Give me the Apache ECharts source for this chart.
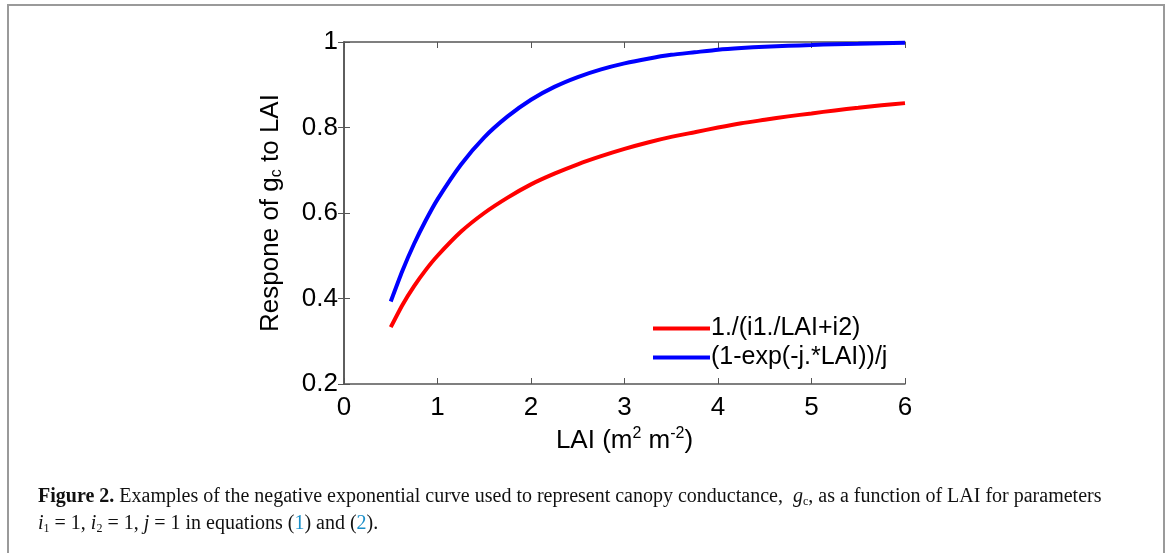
<!DOCTYPE html>
<html>
<head>
<meta charset="utf-8">
<script src="https://cdn.jsdelivr.net/npm/echarts@6/dist/echarts.min.js"></script>
<style>
  html, body { margin: 0; padding: 0; background: #fff; }
  #wrap { position: relative; width: 1171px; height: 553px; overflow: hidden; }
  #frame { position: absolute; left: 7px; top: 4px; width: 1154px; height: 560px;
           border: 2px solid #9a9a9a; border-bottom: none; }
  #chart { position: absolute; left: 0; top: 0; width: 1171px; height: 553px; }
  #caption { position: absolute; left: 38px; top: 482px; width: 1120px;
             font-family: "Liberation Serif", "DejaVu Serif", serif; font-size: 20px;
             line-height: 27px; color: #111; }
  #caption b { font-weight: bold; }
  #caption a { color: #1a8fc9; text-decoration: none; }
  #caption sub { font-size: 12px; vertical-align: -3px; line-height: 0; }
</style>
</head>
<body>
<div id="wrap">
  <div id="frame"></div>
  <div id="chart"></div>
  <div id="caption"><b>Figure 2.</b> Examples of the negative exponential curve used to represent canopy conductance, &nbsp;<i>g</i><sub>c</sub>, as a function of LAI for parameters<br><i>i</i><sub>1</sub> = 1, <i>i</i><sub>2</sub> = 1, <i>j</i> = 1 in equations (<a>1</a>) and (<a>2</a>).</div>
</div>
<script>
  // 横轴 LAI 取值
  var lai = [0.5, 0.625, 0.75, 0.875, 1, 1.25, 1.5, 1.75, 2, 2.25, 2.5, 2.75, 3, 3.25, 3.5, 3.75, 4,
             4.25, 4.5, 4.75, 5, 5.25, 5.5, 5.75, 6];
  // 1./(i1./LAI+i2)
  var redValues = [0.333, 0.385, 0.429, 0.467, 0.5, 0.556, 0.6, 0.636, 0.667, 0.692, 0.714, 0.733, 0.75,
                   0.765, 0.778, 0.789, 0.8, 0.81, 0.818, 0.826, 0.833, 0.84, 0.846, 0.852, 0.857];
  // (1-exp(-j.*LAI))/j
  var blueValues = [0.393, 0.465, 0.528, 0.583, 0.632, 0.713, 0.777, 0.826, 0.865, 0.895, 0.918, 0.936, 0.95,
                    0.961, 0.97, 0.976, 0.982, 0.986, 0.989, 0.991, 0.993, 0.995, 0.996, 0.997, 0.998];
  var xTicks = [0, 1, 2, 3, 4, 5, 6];
  var yTicks = [0.2, 0.4, 0.6, 0.8, 1];
  var seriesNames = ['1./(i1./LAI+i2)', '(1-exp(-j.*LAI))/j'];

  function pairs(xs, ys) {
    var out = [];
    for (var i = 0; i < xs.length; i++) out.push([xs[i], ys[i]]);
    return out;
  }

  var font = '"Liberation Sans", Arial, sans-serif';
  var axisColor = '#555';
  var fs = 26;

  var chart = echarts.init(document.getElementById('chart'));
  chart.setOption({
    animation: false,
    textStyle: { fontFamily: font },
    grid: { left: 344, top: 42, width: 561, height: 342, containLabel: false },
    legend: {
      orient: 'vertical',
      left: 648,
      top: 311,
      itemWidth: 57,
      itemHeight: 4,
      itemGap: 4,
      icon: 'rect',
      textStyle: { fontSize: 25, color: '#000', fontFamily: font, padding: [0, 0, 0, -4] },
      data: seriesNames
    },
    xAxis: [{
      type: 'value',
      min: xTicks[0], max: xTicks[xTicks.length - 1], interval: 1,
      name: 'LAI (m{sup|2} m{sup|-2})',
      nameLocation: 'middle',
      nameGap: 41,
      nameTextStyle: {
        fontSize: fs, color: '#000', fontFamily: font,
        rich: { sup: { fontSize: 16, color: '#000', fontFamily: font, padding: [0, 0, 14, 0] } }
      },
      axisLine: { show: true, lineStyle: { color: axisColor, width: 1.5 } },
      axisTick: { show: true, inside: true, length: 6, lineStyle: { color: axisColor } },
      axisLabel: { fontSize: fs, color: '#000', margin: 11 },
      splitLine: { show: false }
    }, {
      type: 'value', position: 'top',
      min: xTicks[0], max: xTicks[xTicks.length - 1], interval: 1,
      axisLine: { show: true, lineStyle: { color: axisColor, width: 1.5 } },
      axisTick: { show: true, inside: true, length: 6, lineStyle: { color: axisColor } },
      axisLabel: { show: false },
      splitLine: { show: false }
    }],
    yAxis: [{
      type: 'value',
      min: yTicks[0], max: yTicks[yTicks.length - 1], interval: 0.2,
      name: 'Respone of g{sub|c} to LAI',
      nameLocation: 'middle',
      nameGap: 59,
      nameTextStyle: {
        fontSize: fs, color: '#000', fontFamily: font,
        rich: { sub: { fontSize: 16, color: '#000', fontFamily: font, padding: [12, 0, 0, 0] } }
      },
      axisLine: { show: true, lineStyle: { color: axisColor, width: 1.5 } },
      axisTick: { show: true, inside: true, length: 6, lineStyle: { color: axisColor } },
      axisLabel: {
        fontSize: fs, color: '#000', margin: 6,
        formatter: function (v) { return String(Math.round(v * 10) / 10); }
      },
      splitLine: { show: false }
    }, {
      type: 'value', position: 'right',
      min: yTicks[0], max: yTicks[yTicks.length - 1], interval: 0.2,
      axisLine: { show: true, lineStyle: { color: axisColor, width: 1.5 } },
      axisTick: { show: true, inside: true, length: 6, lineStyle: { color: axisColor } },
      axisLabel: { show: false },
      splitLine: { show: false }
    }],
    series: [{
      name: seriesNames[0],
      type: 'line',
      data: pairs(lai, redValues),
      smooth: 0.2,
      showSymbol: false,
      color: '#ff0000',
      lineStyle: { width: 4, color: '#ff0000' }
    }, {
      name: seriesNames[1],
      type: 'line',
      data: pairs(lai, blueValues),
      smooth: 0.2,
      showSymbol: false,
      color: '#0000ff',
      lineStyle: { width: 4, color: '#0000ff' }
    }]
  });
</script>
</body>
</html>
